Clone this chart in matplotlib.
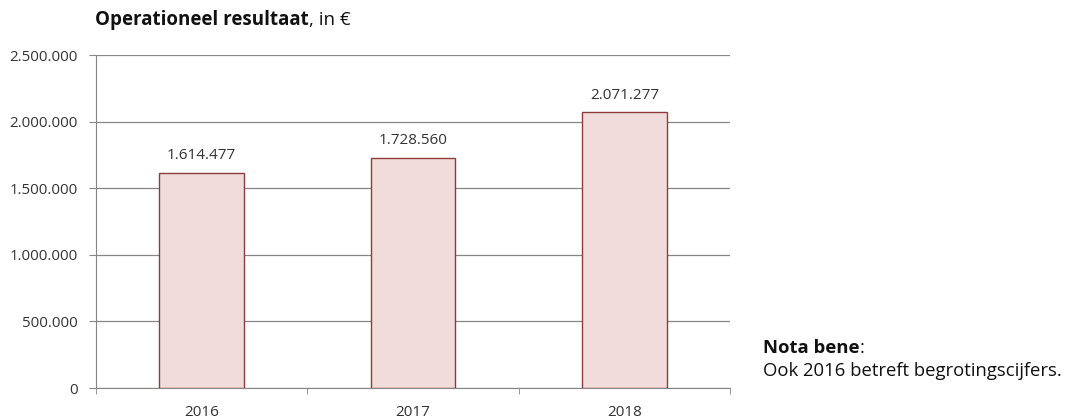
import numpy as np
import matplotlib.pyplot as plt

years = ["2016", "2017", "2018"]
values = [1614477, 1728560, 2071277]
yticks = [0, 500000, 1000000, 1500000, 2000000, 2500000]


def fmt(v):
    return f"{v:,}".replace(",", ".")


plt.rcParams['font.family'] = ['Open Sans', 'DejaVu Sans']

fig = plt.figure(figsize=(10.68, 4.19), dpi=100)
ax = fig.add_axes([96 / 1068, 1 - 388 / 419, (730 - 96) / 1068, (388 - 55) / 419])

x = np.arange(len(years))
ax.bar(x, values, width=0.4, color='#f2dcdb', edgecolor='#8c3c3c', linewidth=1, zorder=3)
for xi, v in zip(x, values):
    ax.annotate(fmt(v), (xi, v), xytext=(0, 17), textcoords='offset pixels',
                ha='center', va='center', fontsize=11, color='#333333')

ax.set_xlim(-0.5, 2.5)
ax.set_ylim(0, 2500000)
ax.set_yticks(yticks)
ax.set_yticklabels([fmt(v) for v in yticks], fontsize=10.8, color='#333333')
ax.set_xticks(x)
ax.set_xticklabels(years, fontsize=11, color='#333333')
ax.tick_params(axis='x', length=0, pad=12)
ax.tick_params(axis='y', length=5, color='#868686', pad=8)
ax.set_xticks([-0.5, 0.5, 1.5, 2.5], minor=True)
ax.tick_params(axis='x', which='minor', length=4, color='#868686')

ax.grid(axis='y', color='#868686', linewidth=0.9, zorder=0)
for s in ['top', 'right']:
    ax.spines[s].set_visible(False)
ax.spines['left'].set_color('#868686')
ax.spines['bottom'].set_color('#868686')

# title: bold part + regular part
t1 = fig.text(95 / 1068, 1 - 20 / 419, "Operationeel resultaat", fontsize=13.5, fontweight='bold',
              ha='left', va='center', color='#111111')
ax.annotate(", in €", xy=(1, 0.5), xycoords=t1, ha='left', va='center', fontsize=13.5,
            color='#111111')

n1 = fig.text(763 / 1068, 1 - 348 / 419, "Nota bene", fontsize=13.3, fontweight='bold',
              ha='left', va='center', color='#111111')
ax.annotate(":", xy=(1, 0.5), xycoords=n1, ha='left', va='center', fontsize=13.3,
            color='#111111')
fig.text(763 / 1068, 1 - 371 / 419, "Ook 2016 betreft begrotingscijfers.", fontsize=13.3,
         ha='left', va='center', color='#111111')

fig.savefig("out.png", dpi=100)
